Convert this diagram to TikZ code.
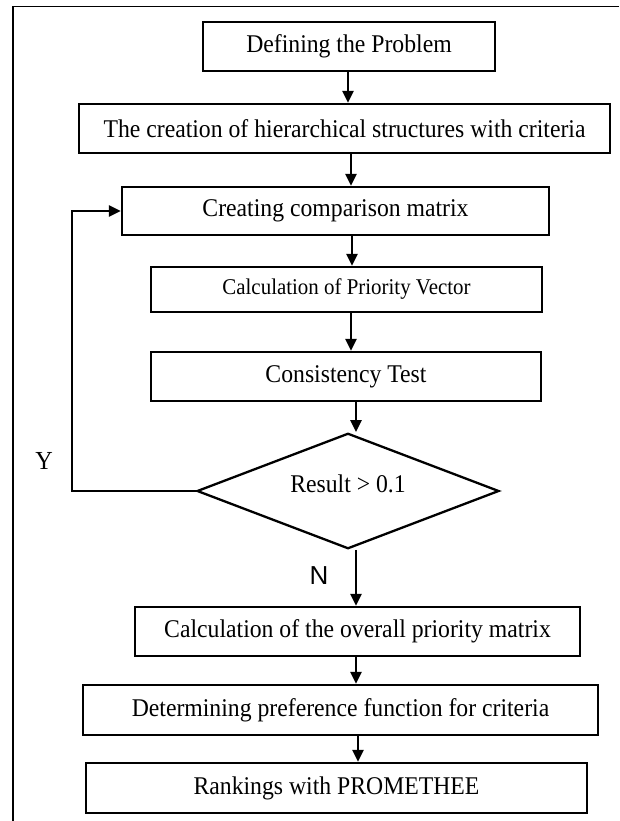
\documentclass[tikz,border=0pt]{standalone}
\usepackage{fontspec}
\setmainfont[FakeStretch=0.93]{Liberation Serif}
\newfontfamily\arialfont{Liberation Sans}
\usetikzlibrary{shapes.geometric,arrows.meta,calc}
\begin{document}
\begin{tikzpicture}[x=1pt,y=-1pt,
  stepbox/.style={draw, line width=2.3pt, inner sep=0pt, align=center,
    font=\fontsize{25.5}{30}\selectfont},
  arr/.style={line width=2.3pt, -{Triangle[length=12pt,width=11pt]}},
  lbl/.style={inner sep=0pt},
]
\useasboundingbox (0,0) rectangle (619,821);
% outer frame (open to the right and bottom)
\draw[line width=1.4pt] (619,6.5) -- (13,6.5) -- (13,821);

\node[stepbox, minimum width=292pt, minimum height=49pt] (n1) at (349,46.5) {Defining the Problem};
\node[stepbox, minimum width=531pt, minimum height=49pt] (n2) at (344.5,128.5) {The creation of hierarchical structures with criteria};
\node[stepbox, minimum width=427pt, minimum height=48pt] (n3) at (335.5,211) {Creating comparison matrix};
\node[stepbox, minimum width=391pt, minimum height=45pt, font=\fontsize{22.5}{27}\selectfont] (n4) at (346.5,289.5) {Calculation of Priority Vector};
\node[stepbox, minimum width=390pt, minimum height=49pt] (n5) at (346,376.5) {Consistency Test};
\node[stepbox, diamond, minimum width=302pt, minimum height=110pt] (dia) at (348,491) {\raisebox{-1.5pt}[0pt][0pt]{Result > 0.1}};
\node[stepbox, minimum width=445pt, minimum height=49pt] (n6) at (357.5,631.5) {Calculation of the overall priority matrix};
\node[stepbox, minimum width=515pt, minimum height=50pt] (n7) at (340.5,710) {Determining preference function for criteria};
\node[stepbox, minimum width=501pt, minimum height=50pt] (n8) at (336.5,788) {Rankings with PROMETHEE};

\node[lbl, font=\fontsize{26}{30}\selectfont] (ylab) at (44,461) {Y};
\node[lbl, font=\arialfont\fontsize{26}{30}\selectfont] (nlab) at (319,576) {N};

% x positions of the vertical connectors
\coordinate (x1) at (348,0);
\coordinate (x2) at (351,0);
\coordinate (x3) at (352,0);
\coordinate (x4) at (351,0);
\coordinate (x5) at (356,0);
\coordinate (x6) at (356,0);
\coordinate (x7) at (356,0);
\coordinate (x8) at (358,0);

\draw[arr] (n1.south -| x1) -- (n2.north -| x1);
\draw[arr] (n2.south -| x2) -- (n3.north -| x2);
\draw[arr] (n3.south -| x3) -- (n4.north -| x3);
\draw[arr] (n4.south -| x4) -- (n5.north -| x4);
\draw[arr] (n5.south -| x5) -- (dia.north -| x5);
\draw[arr] (dia.south -| x6) -- (n6.north -| x6);
\draw[arr] (n6.south -| x7) -- (n7.north -| x7);
\draw[arr] (n7.south -| x8) -- (n8.north -| x8);
% Yes loop
\draw[arr] (dia.west) -- ++(-124,0) |- (n3.west);
\end{tikzpicture}
\end{document}
